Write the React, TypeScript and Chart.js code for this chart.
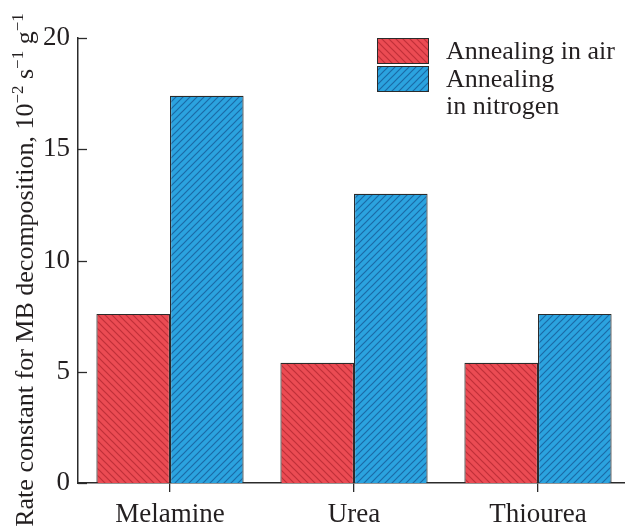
import React, { useEffect, useRef } from "react";
import { Chart, registerables } from "chart.js";

Chart.register(...registerables);

const categories = ["Melamine", "Urea", "Thiourea"];
const airValues = [7.6, 5.4, 5.4];
const nitrogenValues = [17.4, 13.0, 7.6];
const seriesLabels = [["Annealing in air"], ["Annealing", "in nitrogen"]];
const yMin = 0;
const yMax = 20;
const yStep = 5;
const yTitleParts = [
  { text: "Rate constant for MB decomposition, 10", sup: false },
  { text: "\u22122", sup: true },
  { text: " s", sup: false },
  { text: "\u22121", sup: true },
  { text: " g", sup: false },
  { text: "\u22121", sup: true },
];

const FONT = "'Liberation Serif', 'Times New Roman', serif";
const TEXT = "#231f20";
const EDGE = "#2b2b2b";

function makePattern(base: string, line: string, forward: boolean): CanvasPattern | string {
  const s = 7;
  const c = document.createElement("canvas");
  c.width = s;
  c.height = s;
  const g = c.getContext("2d");
  if (!g) return base;
  g.fillStyle = base;
  g.fillRect(0, 0, s, s);
  g.strokeStyle = line;
  g.lineWidth = 1.2;
  g.beginPath();
  if (forward) {
    g.moveTo(-1, s + 1); g.lineTo(s + 1, -1);
    g.moveTo(-1, 1); g.lineTo(1, -1);
    g.moveTo(s - 1, s + 1); g.lineTo(s + 1, s - 1);
  } else {
    g.moveTo(-1, -1); g.lineTo(s + 1, s + 1);
    g.moveTo(s - 1, -1); g.lineTo(s + 1, 1);
    g.moveTo(-1, s - 1); g.lineTo(1, s + 1);
  }
  g.stroke();
  const p = g.createPattern(c, "repeat");
  return p || base;
}

export default function App() {
  const ref = useRef<HTMLCanvasElement>(null);

  useEffect(() => {
    document.body.style.margin = "0";
    document.body.style.overflow = "hidden";
    const canvas = ref.current;
    if (!canvas) return;
    const redFill = makePattern("#eb4b53", "#bf3039", false);
    const blueFill = makePattern("#2ba3df", "#1b6aa6", true);
    const fills = [redFill, blueFill];

    const extras = {
      id: "extras",
      afterDraw(chart: any) {
        const ctx = chart.ctx;
        const area = chart.chartArea;
        const y = chart.scales.y;
        ctx.save();
        // inward y ticks
        ctx.strokeStyle = EDGE;
        ctx.lineWidth = 1.3;
        for (const t of y.ticks) {
          const py = Math.round(y.getPixelForValue(t.value)) + 0.5;
          ctx.beginPath();
          ctx.moveTo(area.left, py);
          ctx.lineTo(area.left + 9, py);
          ctx.stroke();
        }
        // y title
        ctx.fillStyle = TEXT;
        ctx.textBaseline = "alphabetic";
        ctx.textAlign = "left";
        const mainFont = `26px ${FONT}`;
        const supFont = `17px ${FONT}`;
        let total = 0;
        for (const p of yTitleParts) {
          ctx.font = p.sup ? supFont : mainFont;
          total += ctx.measureText(p.text).width;
        }
        ctx.translate(33, 270);
        ctx.rotate(-Math.PI / 2);
        let x = -total / 2;
        for (const p of yTitleParts) {
          ctx.font = p.sup ? supFont : mainFont;
          ctx.fillText(p.text, x, p.sup ? -10 : 0);
          x += ctx.measureText(p.text).width;
        }
        ctx.setTransform(1, 0, 0, 1, 0, 0);
        // legend
        const bx = 377, bw = 51, bh = 25;
        const boxTops = [38, 66];
        const textYs = [[52], [80, 107]];
        chart.data.datasets.forEach((ds: any, i: number) => {
          ctx.fillStyle = fills[i];
          ctx.fillRect(bx, boxTops[i], bw, bh);
          ctx.strokeStyle = EDGE;
          ctx.lineWidth = 1;
          ctx.strokeRect(bx + 0.5, boxTops[i] + 0.5, bw, bh);
          ctx.fillStyle = TEXT;
          ctx.font = `26px ${FONT}`;
          ctx.textBaseline = "middle";
          seriesLabels[i].forEach((line, j) => {
            ctx.fillText(line, 446, textYs[i][j]);
          });
        });
        ctx.restore();
      },
    };

    const chart = new Chart(canvas, {
      type: "bar",
      data: {
        labels: categories,
        datasets: [
          {
            label: seriesLabels[0].join(" "),
            data: airValues,
            backgroundColor: redFill as any,
            borderColor: EDGE,
            borderWidth: 1.2,
            categoryPercentage: 0.8,
            barPercentage: 1.0,
          },
          {
            label: seriesLabels[1].join(" "),
            data: nitrogenValues,
            backgroundColor: blueFill as any,
            borderColor: EDGE,
            borderWidth: 1.2,
            categoryPercentage: 0.8,
            barPercentage: 1.0,
          },
        ],
      },
      options: {
        responsive: false,
        animation: false,
        devicePixelRatio: 1,
        layout: { padding: { top: 38, right: 10, left: 0, bottom: 0 } },
        plugins: {
          legend: { display: false },
          tooltip: { enabled: false },
          title: { display: false },
        },
        scales: {
          x: {
            offset: true,
            grid: {
              display: true,
              drawOnChartArea: false,
              drawTicks: true,
              tickLength: 9,
              offset: false,
              color: EDGE,
              lineWidth: 1.3,
            },
            border: { display: true, color: EDGE, width: 1.5 },
            ticks: {
              color: TEXT,
              font: { family: FONT, size: 27 },
              padding: 7,
              maxRotation: 0,
              autoSkip: false,
            },
            afterFit(scale: any) {
              scale.height = 46;
            },
          },
          y: {
            min: yMin,
            max: yMax,
            grid: { display: false, drawTicks: false },
            border: { display: true, color: EDGE, width: 1.5 },
            ticks: {
              stepSize: yStep,
              color: TEXT,
              font: { family: FONT, size: 27 },
              padding: 8,
            },
            afterFit(scale: any) {
              scale.width = 78;
            },
          },
        },
      },
      plugins: [extras],
    });
    return () => chart.destroy();
  }, []);

  return (
    <div style={{ width: 625, height: 529, overflow: "hidden", position: "relative" }}>
      <canvas ref={ref} width={640} height={529} style={{ display: "block", width: 640, height: 529 }} />
    </div>
  );
}
